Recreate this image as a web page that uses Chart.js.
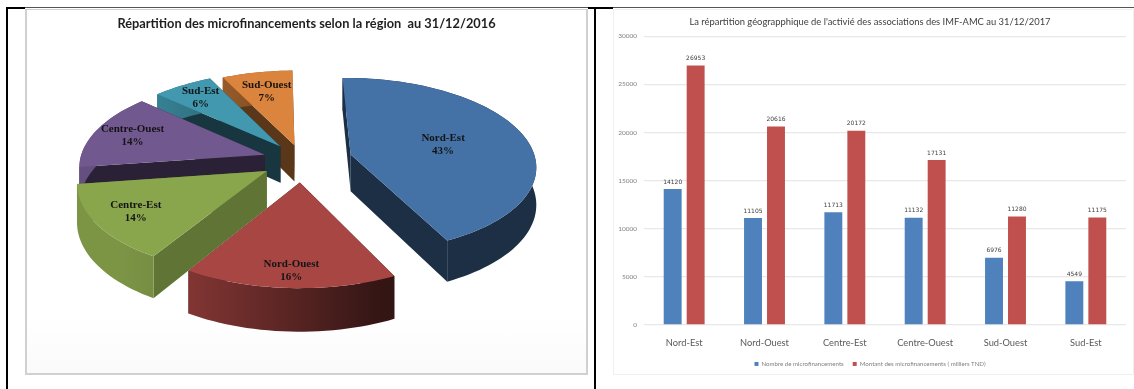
<!DOCTYPE html>
<html lang="fr">
<head>
<meta charset="utf-8">
<title>Microfinancements par région</title>
<script src="https://cdn.jsdelivr.net/npm/chart.js@4/dist/chart.umd.js"></script>
<style>
  html, body { margin: 0; background: #fff; overflow: hidden; }
  #page { position: relative; width: 1134px; height: 389px; }
  .rule { position: absolute; }
  .panel { position: absolute; box-sizing: border-box; background: #fff; }
  #leftPanel { left: 25px; top: 9px; width: 563px; height: 366px; border: 1px solid #d0d0d0; border-width: 1px 2px 2px 2px; background: linear-gradient(#fff, #fff 85%, #fafafa); }
  #rightPanel { left: 613px; top: 9px; width: 521px; height: 366px; border: 1px solid #efefef; }
  canvas { position: absolute; left: 0; top: 0; }
</style>
</head>
<body>
<div id="page">
  <div class="rule" style="left:6px;top:7px;width:2px;height:382px;background:#000"></div>
  <div class="rule" style="left:594px;top:7px;width:2px;height:382px;background:#000"></div>
  <div class="rule" style="left:6px;top:7px;width:1128px;height:1px;background:#555"></div>
  <div class="rule" style="left:6px;top:7px;width:19px;height:2px;background:#000"></div>
  <div class="rule" style="left:588px;top:7px;width:25px;height:2px;background:#000"></div>
  <div class="panel" id="leftPanel"><canvas id="pieChart"></canvas></div>
  <div class="panel" id="rightPanel"><canvas id="barChart"></canvas></div>
</div>

<script>
// Pie: share of microfinancing per region, 2016
const pieRegions = ["Nord-Est", "Nord-Ouest", "Centre-Est", "Centre-Ouest", "Sud-Est", "Sud-Ouest"];
const pieShares = [43, 16, 14, 14, 6, 7];

// Bars: activity per region, 2017
const barRegions = ["Nord-Est", "Nord-Ouest", "Centre-Est", "Centre-Ouest", "Sud-Ouest", "Sud-Est"];
const microfinanceCount = [14120, 11105, 11713, 11132, 6976, 4549];
const microfinanceAmount = [26953, 20616, 20172, 17131, 11280, 11175];
const yTicks = [0, 5000, 10000, 15000, 20000, 25000, 30000];

// Slice styling, same order as pieRegions
const pieTopColors = ["#4471a6", "#a84643", "#8aa64d", "#71588f", "#4198af", "#db843d"];
const pieSideShade = [0.58, 0.58, 0.30, 0.62, 0.64, 0.58];
const pieRimMaxShade = [0.58, 0.72, 0.72, 0.72, 0.72, 0.72];
const pieOffsets = [40, 37, 33, 31, 29, 26];
const pieLabelRadius = [0.53, 0.85, 0.78, 0.78, 0.8, 0.72];

// Perspective used to lay the pie on its side
const tilt = { cx: 275, cy: 150, scaleX: 185, scaleY: 87, depth: 37, k: 0.12 };

const getById = (id) => document.getElementById(id);

function project(u, v, drop) {
  const w = 1 - tilt.k * v;
  return {
    x: tilt.cx + tilt.scaleX * u / w,
    y: tilt.cy + (tilt.scaleY * v + drop) / w,
  };
}

function darken(hex, amount) {
  const n = parseInt(hex.slice(1), 16);
  const f = 1 - amount;
  return `rgb(${((n >> 16) & 255) * f | 0}, ${((n >> 8) & 255) * f | 0}, ${(n & 255) * f | 0})`;
}

// Outline of one arc element in pie units (radius = 1)
function sliceOutline(arc, offset) {
  const { startAngle, endAngle, outerRadius } = arc.getProps(["startAngle", "endAngle", "outerRadius"], true);
  const mid = (startAngle + endAngle) / 2;
  const ox = Math.cos(mid) * offset / outerRadius;
  const oy = Math.sin(mid) * offset / outerRadius;
  const steps = Math.max(6, Math.round((endAngle - startAngle) * 30));
  const rim = [];
  for (let i = 0; i <= steps; i++) {
    const a = startAngle + (endAngle - startAngle) * i / steps;
    rim.push({ u: ox + Math.cos(a), v: oy + Math.sin(a) });
  }
  return { apex: { u: ox, v: oy }, rim, mid, ox, oy };
}

function fillPolygon(ctx, points, color) {
  ctx.beginPath();
  points.forEach((p, i) => (i ? ctx.lineTo(p.x, p.y) : ctx.moveTo(p.x, p.y)));
  ctx.closePath();
  ctx.fillStyle = color;
  ctx.fill();
}

function sideQuad(ctx, a, b, color) {
  fillPolygon(ctx, [
    project(a.u, a.v, 0), project(b.u, b.v, 0),
    project(b.u, b.v, tilt.depth), project(a.u, a.v, tilt.depth),
  ], color);
}

// Rim wall, darker the further it faces to the right
function rimGradient(ctx, color, maxShade) {
  const left = project(-1, 0, 0).x;
  const right = project(1, 0, 0).x;
  const gradient = ctx.createLinearGradient(left, 0, right, 0);
  for (let i = 0; i <= 10; i++) {
    const u = i / 5 - 1;
    gradient.addColorStop(i / 10, darken(color, Math.min(maxShade, Math.max(0.1, 0.5 + 0.45 * u))));
  }
  return gradient;
}

function drawSlice(ctx, arc, index) {
  const color = pieTopColors[index];
  const shape = sliceOutline(arc, pieOffsets[index]);
  const sideColor = darken(color, pieSideShade[index]);
  const first = shape.rim[0];
  const last = shape.rim[shape.rim.length - 1];

  // radial walls, far one first
  const walls = [first, last].sort((a, b) => a.v - b.v);
  walls.forEach(edge => sideQuad(ctx, shape.apex, edge, sideColor));

  const rimWall = [
    ...shape.rim.map(p => project(p.u, p.v, 0)),
    ...shape.rim.slice().reverse().map(p => project(p.u, p.v, tilt.depth)),
  ];
  fillPolygon(ctx, rimWall, rimGradient(ctx, color, pieRimMaxShade[index]));

  const top = [shape.apex, ...shape.rim].map(p => project(p.u, p.v, 0));
  fillPolygon(ctx, top, color);
}

function drawSliceLabel(ctx, arc, index) {
  const shape = sliceOutline(arc, pieOffsets[index]);
  const r = pieLabelRadius[index];
  const p = project(shape.ox + Math.cos(shape.mid) * r, shape.oy + Math.sin(shape.mid) * r, 0);
  ctx.fillStyle = "#141414";
  ctx.font = "bold 11px 'Liberation Serif'";
  ctx.textAlign = "center";
  ctx.textBaseline = "middle";
  ctx.fillText(pieRegions[index], p.x, p.y - 6);
  ctx.fillText(pieShares[index] + "%", p.x, p.y + 7);
}

// Replaces the flat arcs with the extruded ones, back to front
const tiltedPie = {
  id: "tiltedPie",
  beforeDatasetDraw(chart) {
    const ctx = chart.ctx;
    const arcs = chart.getDatasetMeta(0).data;
    const order = arcs
      .map((arc, index) => ({ arc, index, v: sliceOutline(arc, pieOffsets[index]).oy }))
      .sort((a, b) => a.v - b.v);
    ctx.save();
    order.forEach(s => drawSlice(ctx, s.arc, s.index));
    order.forEach(s => drawSliceLabel(ctx, s.arc, s.index));
    ctx.restore();
    return false;
  },
};

// Value above each bar
const barValues = {
  id: "barValues",
  afterDatasetsDraw(chart) {
    const ctx = chart.ctx;
    ctx.save();
    ctx.font = "6px 'DejaVu Sans'";
    ctx.fillStyle = "#404040";
    ctx.textAlign = "center";
    ctx.textBaseline = "bottom";
    chart.data.datasets.forEach((ds, d) => {
      chart.getDatasetMeta(d).data.forEach((bar, i) => {
        ctx.fillText(ds.data[i], bar.x, bar.y - 4);
      });
    });
    ctx.restore();
  },
};

Chart.defaults.animation = false;

function sizeCanvas(id, width, height) {
  const canvas = getById(id);
  canvas.width = width;
  canvas.height = height;
  canvas.style.width = width + "px";
  canvas.style.height = height + "px";
  return canvas.getContext("2d");
}

new Chart(sizeCanvas("pieChart", 559, 363), {
  type: "pie",
  plugins: [tiltedPie],
  data: {
    labels: pieRegions,
    datasets: [{ data: pieShares, backgroundColor: pieTopColors, offset: pieOffsets, borderWidth: 0 }],
  },
  options: {
    responsive: false,
    rotation: -1,
    plugins: {
      legend: { display: false },
      tooltip: { enabled: false },
      title: {
        display: true,
        text: "Répartition des microfinancements selon la région  au 31/12/2016",
        color: "#1f1f1f",
        font: { family: "Lato", size: 12.8, weight: "bold" },
        padding: { top: 6, bottom: 8 },
      },
    },
  },
});

new Chart(sizeCanvas("barChart", 519, 367), {
  type: "bar",
  plugins: [barValues],
  data: {
    labels: barRegions,
    datasets: [
      { label: "Nombre de microfinancements", data: microfinanceCount, backgroundColor: "#4f81bd" },
      { label: "Montant des microfinancements ( milliers TND)", data: microfinanceAmount, backgroundColor: "#c0504d" },
    ],
  },
  options: {
    responsive: false,
    layout: { padding: { right: 7, bottom: 0 } },
    datasets: { bar: { categoryPercentage: 0.572, barPercentage: 0.78 } },
    scales: {
      x: {
        grid: { display: false, drawTicks: false },
        border: { display: false },
        ticks: { color: "#595959", font: { family: "Lato", size: 9.3 }, padding: 13 },
        afterFit(axis) { axis.height = 27; },
      },
      y: {
        min: 0,
        max: 30000,
        afterBuildTicks(axis) { axis.ticks = yTicks.map(value => ({ value })); },
        border: { display: false },
        grid: { color: "#e8e8e8", lineWidth: 1.3, drawTicks: false },
        ticks: { color: "#7f7f7f", font: { family: "Lato", size: 6.5 }, padding: 7, callback: value => String(value) },
        afterFit(axis) { axis.width = 30; },
      },
    },
    plugins: {
      tooltip: { enabled: false },
      title: {
        display: true,
        text: "La répartition géograpphique de l'activié des associations des IMF-AMC au 31/12/2017",
        color: "#404040",
        font: { family: "Lato", size: 9.4, weight: "normal" },
        padding: { top: 6, bottom: 9 },
      },
      legend: {
        position: "bottom",
        labels: { boxWidth: 4, boxHeight: 4, color: "#7f7f7f", font: { family: "Lato", size: 6.1 }, padding: 9 },
      },
    },
  },
});
</script>
</body>
</html>
